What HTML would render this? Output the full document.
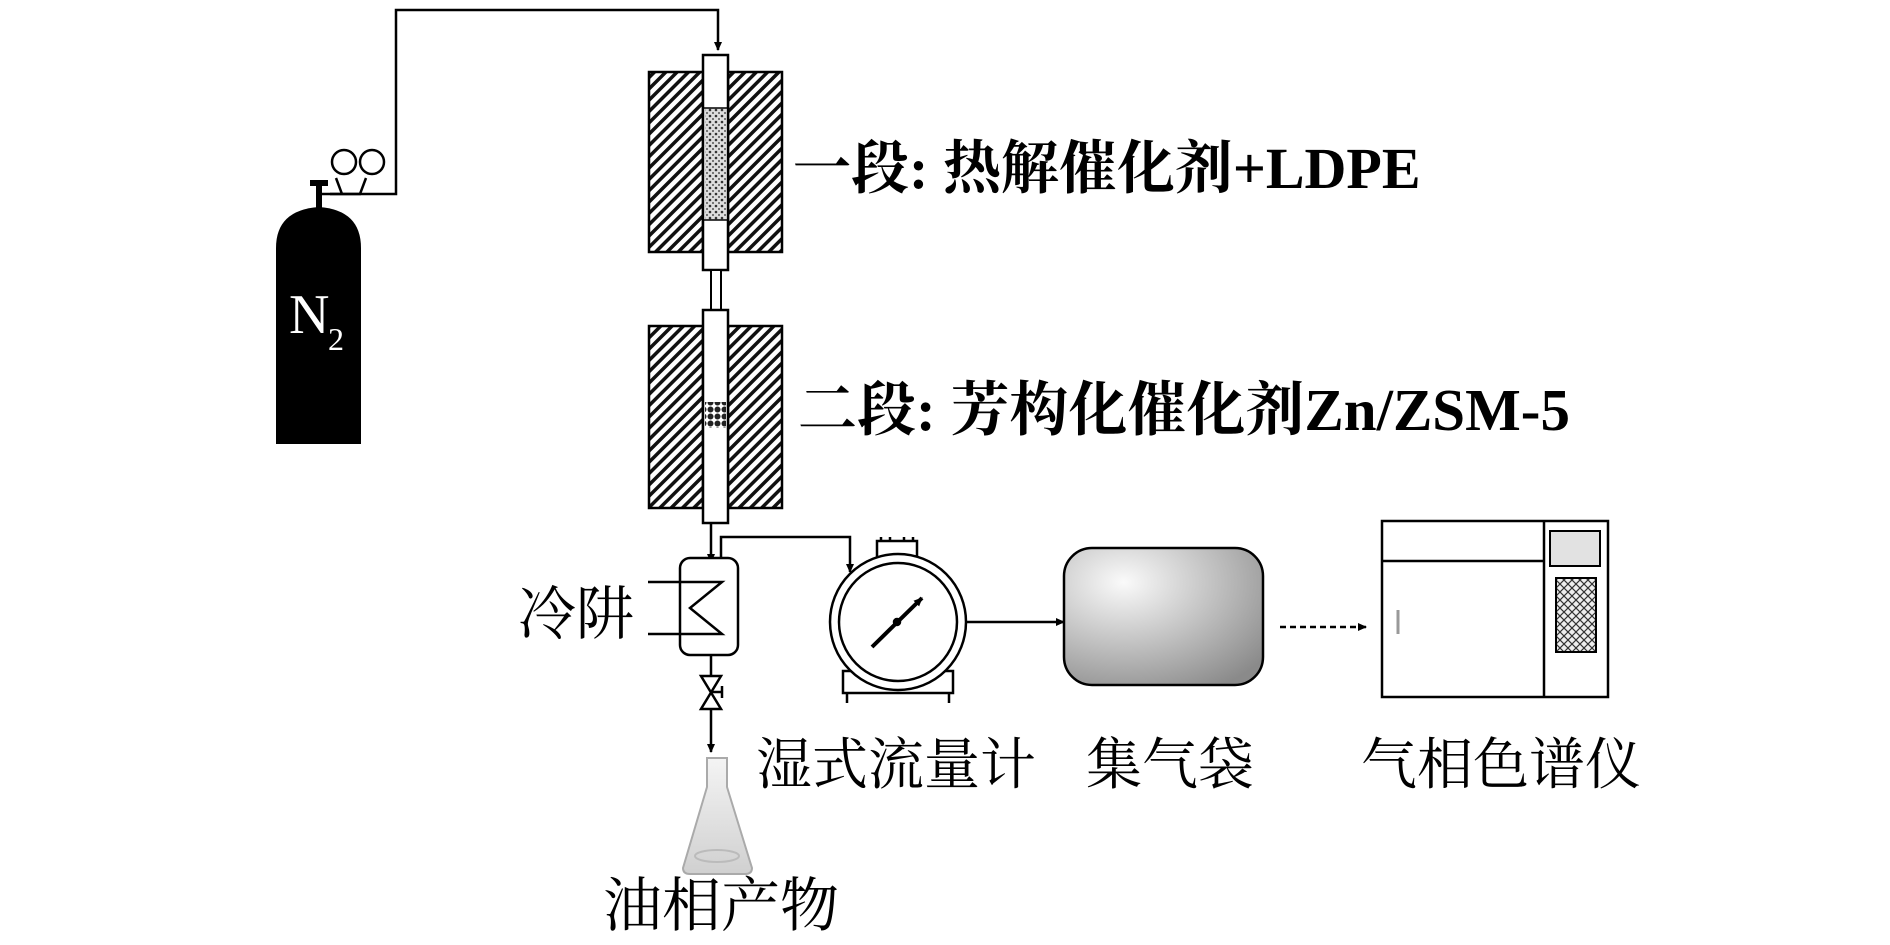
<!DOCTYPE html>
<html><head><meta charset="utf-8"><style>
html,body{margin:0;padding:0;background:#fff;}
svg{display:block;}
.t{font-family:"Liberation Serif","Noto Serif CJK SC",serif;fill:#000;}
</style></head><body>
<svg width="1890" height="945" viewBox="0 0 1890 945" xmlns="http://www.w3.org/2000/svg">
<defs>
<pattern id="hatch" width="8" height="8" patternUnits="userSpaceOnUse" patternTransform="rotate(45)">
<rect width="8" height="8" fill="#fff"/><rect width="3.5" height="8" fill="#111"/>
</pattern>
<pattern id="dots" width="6" height="6" patternUnits="userSpaceOnUse">
<rect width="6" height="6" fill="#ddd"/><circle cx="2" cy="2" r="1.3" fill="#333"/><circle cx="5" cy="5" r="1" fill="#555"/>
</pattern>
<pattern id="grid" width="7" height="7" patternUnits="userSpaceOnUse">
<rect width="7" height="7" fill="#fff"/><circle cx="3.5" cy="3.5" r="3" fill="#222"/>
</pattern>
<pattern id="cross" width="8" height="8" patternUnits="userSpaceOnUse">
<rect width="8" height="8" fill="#eee"/><path d="M0 0L8 8M8 0L0 8" stroke="#333" stroke-width="1.2"/>
</pattern>
<radialGradient id="bag" cx="0.3" cy="0.25" r="0.9"><stop offset="0" stop-color="#fafafa"/><stop offset="1" stop-color="#8a8a8a"/></radialGradient>
<linearGradient id="flask" x1="0" y1="0" x2="0" y2="1"><stop offset="0" stop-color="#f4f4f4"/><stop offset="1" stop-color="#d0d0d0"/></linearGradient>
<marker id="ar" markerWidth="10" markerHeight="10" refX="8" refY="5" orient="auto" markerUnits="userSpaceOnUse"><path d="M0 1L9 5L0 9Z" fill="#000"/></marker>
</defs>
<g stroke="#000" stroke-width="2.5" fill="none">
<path d="M330 194H396V10H718V50" marker-end="url(#ar)"/>
<rect x="649" y="72" width="54" height="180" fill="url(#hatch)"/>
<rect x="728" y="72" width="54" height="180" fill="url(#hatch)"/>
<rect x="703" y="55" width="25" height="215" fill="#fff"/>
<rect x="705" y="108" width="21" height="112" fill="url(#dots)" stroke="none"/>
<path d="M703 108H728M703 220H728" stroke-width="1.5"/>
<rect x="711" y="270" width="10" height="40" fill="#fff" stroke-width="2"/>
<rect x="649" y="326" width="54" height="182" fill="url(#hatch)"/>
<rect x="728" y="326" width="54" height="182" fill="url(#hatch)"/>
<rect x="703" y="310" width="25" height="213" fill="#fff"/>
<rect x="705" y="402" width="21" height="26" fill="url(#grid)" stroke="none"/>
<path d="M711 523V562" marker-end="url(#ar)"/>
<rect x="680" y="558" width="58" height="97" rx="10" fill="#fff"/>
<path d="M721 558V537H850V572" marker-end="url(#ar)"/>
<path d="M648 582H722L690 608L722 634H648"/>
<path d="M711 655V675M711 710V748" />
<path d="M711 748V752" marker-end="url(#ar)"/>
<path d="M701 676H721L701 709H721Z" fill="#fff"/>
<path d="M711 692H722M722 686V698"/>
<rect x="877" y="541" width="40" height="17" fill="#fff"/>
<path d="M881 541V537M890 541V537M904 541V537M913 541V537"/>
<rect x="843" y="671" width="110" height="22" fill="#fff"/>
<path d="M847 693V703M949 693V703"/>
<circle cx="898" cy="622" r="68" fill="#fff"/>
<circle cx="898" cy="622" r="59"/>
<path d="M872 647L922 598" stroke-width="4" marker-end="url(#ar)"/>
<circle cx="897" cy="622" r="3" fill="#000"/>
<path d="M966 622H1064" marker-end="url(#ar)"/>
<rect x="1064" y="548" width="199" height="137" rx="28" fill="url(#bag)"/>
<path d="M1280 627H1366" stroke-dasharray="6 4" marker-end="url(#ar)"/>
<rect x="1382" y="521" width="226" height="176" fill="#fff"/>
<path d="M1544 521V697M1382 561H1544"/>
<rect x="1550" y="531" width="50" height="35" fill="#e2e2e2" stroke-width="2"/>
<rect x="1556" y="578" width="40" height="74" fill="url(#cross)" stroke-width="2"/>
<path d="M1398 610V634" stroke="#999" stroke-width="3"/>
<path d="M707 758H727V787L752 868Q752 874 745 874H690Q683 874 683 868L707 787Z" fill="url(#flask)" stroke="#aaa" stroke-width="2"/>
<ellipse cx="717" cy="856" rx="22" ry="6" fill="none" stroke="#bbb" stroke-width="2"/>
<path d="M322 194H342L336 178M342 194L360 194L366 178" stroke-width="2.5"/>
<circle cx="344" cy="162" r="12" stroke-width="2.5"/>
<circle cx="372" cy="162" r="12" stroke-width="2.5"/>
</g>
<rect x="310" y="180" width="18" height="6" fill="#000"/>
<rect x="316" y="185" width="6" height="30" fill="#000"/>
<path d="M276 444V248Q276 210 319 207Q361 210 361 248V444Z" fill="#000"/>
<text x="289" y="333" font-size="56" font-family="Liberation Serif,serif" fill="#fff">N</text>
<text x="328" y="350" font-size="32" font-family="Liberation Serif,serif" fill="#fff">2</text>
<text class="t" x="793" y="188" font-size="58" font-weight="bold">一段: 热解催化剂+LDPE</text>
<text class="t" x="798" y="430" font-size="59" font-weight="bold">二段: 芳构化催化剂Zn/ZSM-5</text>
<text class="t" x="518" y="634" font-size="58">冷阱</text>
<text class="t" x="756" y="784" font-size="56">湿式流量计</text>
<text class="t" x="1086" y="784" font-size="56">集气袋</text>
<text class="t" x="1361" y="784" font-size="56">气相色谱仪</text>
<text class="t" x="603" y="926" font-size="59">油相产物</text>
</svg>
</body></html>
